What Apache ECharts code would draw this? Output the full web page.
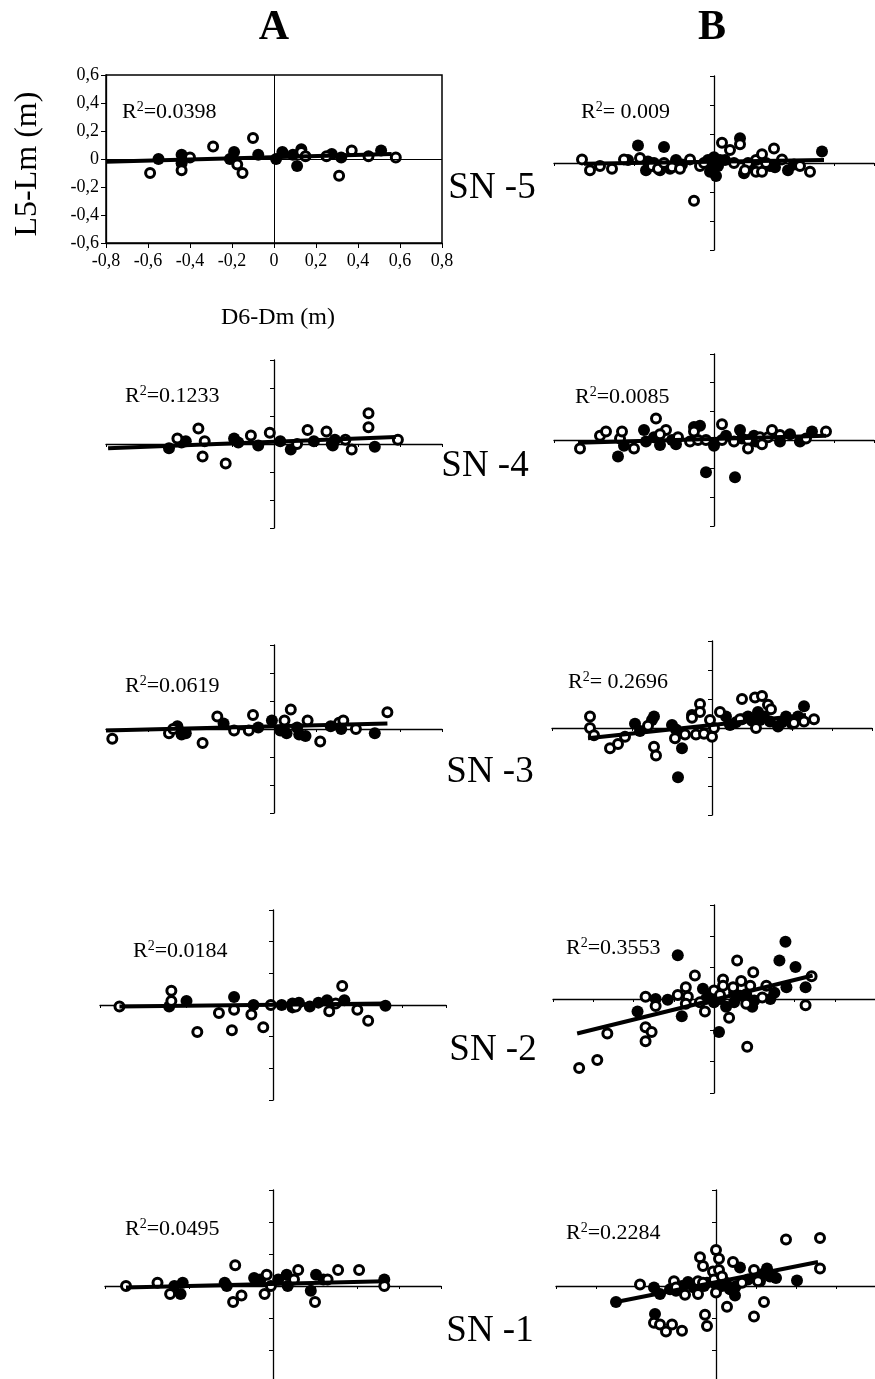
<!DOCTYPE html>
<html>
<head>
<meta charset="utf-8">
<script src="https://cdn.jsdelivr.net/npm/echarts@6/dist/echarts.min.js"></script>
<style>
html,body{margin:0;padding:0;background:#fff}
#chart{width:875px;height:1379px}
</style>
</head>
<body>
<div id="chart"></div>
<script>
// column headers / row names / R2 texts
var columns = ['A', 'B'];
var rowNames = ['SN -5', 'SN -4', 'SN -3', 'SN -2', 'SN -1'];
var r2A = ['=0.0398', '=0.1233', '=0.0619', '=0.0184', '=0.0495'];
var r2B = ['= 0.009', '=0.0085', '= 0.2696', '=0.3553', '=0.2284'];
var xTickLabels = ['-0,8', '-0,6', '-0,4', '-0,2', '0', '0,2', '0,4', '0,6', '0,8'];
var yTickLabels = ['-0,6', '-0,4', '-0,2', '0', '0,2', '0,4', '0,6'];

// ---- column A ----
var aSn5Open = [[-0.59,-0.10],[-0.44,-0.08],[-0.40,0.01],[-0.29,0.09],[-0.175,-0.04],[-0.15,-0.10],[-0.10,0.15],[0.13,0.05],[0.15,0.02],[0.25,0.02],[0.31,-0.12],[0.37,0.06],[0.45,0.02],[0.58,0.01]];
var aSn5Filled = [[-0.55,0.0],[-0.44,0.03],[-0.44,-0.03],[-0.19,0.05],[-0.21,0.0],[-0.075,0.03],[0.01,0.0],[0.04,0.05],[0.09,0.03],[0.11,-0.05],[0.13,0.07],[0.275,0.035],[0.32,0.01],[0.51,0.06]];
var aSn5Fit = [[-0.8,-0.02],[0.56,0.035]];

var aSn4Open = [[-0.46,0.04],[-0.36,0.11],[-0.33,0.02],[-0.34,-0.09],[-0.23,-0.14],[-0.11,0.06],[-0.02,0.08],[0.11,0.0],[0.16,0.10],[0.25,0.09],[0.34,0.03],[0.37,-0.04],[0.45,0.22],[0.45,0.12],[0.59,0.03]];
var aSn4Filled = [[-0.50,-0.03],[-0.42,0.02],[-0.44,0.01],[-0.19,0.04],[-0.17,0.01],[-0.075,-0.01],[0.03,0.02],[0.08,-0.04],[0.19,0.02],[0.275,0.0],[0.28,-0.01],[0.29,0.03],[0.48,-0.02]];
var aSn4Fit = [[-0.79,-0.03],[0.58,0.05]];

var aSn3Open = [[-0.77,-0.07],[-0.50,-0.03],[-0.48,0.0],[-0.34,-0.10],[-0.27,0.09],[-0.19,-0.01],[-0.12,-0.01],[-0.10,0.10],[0.05,0.06],[0.08,0.14],[0.16,0.06],[0.22,-0.09],[0.31,0.045],[0.33,0.06],[0.39,0.0],[0.54,0.12]];
var aSn3Filled = [[-0.46,0.02],[-0.44,-0.04],[-0.42,-0.03],[-0.24,0.04],[-0.075,0.01],[-0.01,0.06],[0.03,-0.01],[0.06,-0.03],[0.12,-0.04],[0.15,-0.05],[0.11,0.01],[0.27,0.02],[0.32,0.0],[0.48,-0.03]];
var aSn3Fit = [[-0.8,-0.01],[0.54,0.04]];

var aSn2Open = [[-0.71,-0.01],[-0.47,0.09],[-0.47,0.025],[-0.35,-0.17],[-0.25,-0.05],[-0.19,-0.16],[-0.18,-0.03],[-0.10,-0.06],[-0.045,-0.14],[-0.01,0.0],[0.105,-0.01],[0.26,-0.04],[0.29,0.01],[0.32,0.12],[0.39,-0.03],[0.44,-0.10]];
var aSn2Filled = [[-0.48,-0.01],[-0.40,0.025],[-0.18,0.05],[-0.09,0.0],[0.04,0.0],[0.09,0.01],[0.12,0.015],[0.09,-0.015],[0.17,-0.01],[0.21,0.015],[0.25,0.03],[0.33,0.03],[0.52,-0.005]];
var aSn2Fit = [[-0.71,-0.01],[0.52,0.01]];

var aSn1Open = [[-0.70,0.0],[-0.55,0.02],[-0.49,-0.05],[-0.19,-0.10],[-0.15,-0.06],[-0.18,0.13],[-0.04,-0.05],[-0.03,0.07],[-0.01,0.0],[0.10,0.04],[0.12,0.10],[0.20,-0.10],[0.26,0.04],[0.31,0.10],[0.41,0.10],[0.53,0.0]];
var aSn1Filled = [[-0.47,0.0],[-0.44,-0.05],[-0.43,0.02],[-0.23,0.02],[-0.22,0.0],[-0.09,0.05],[-0.06,0.04],[0.025,0.04],[0.065,0.07],[0.07,0.0],[0.205,0.07],[0.18,-0.03],[0.24,0.04],[0.53,0.04]];
var aSn1Fit = [[-0.70,-0.01],[0.53,0.03]];

// ---- column B ----
var bSn5Open = [[-0.66,0.025],[-0.62,-0.05],[-0.57,-0.02],[-0.51,-0.04],[-0.45,0.025],[-0.37,0.035],[-0.31,-0.02],[-0.28,-0.04],[-0.25,0.0],[-0.21,-0.03],[-0.17,-0.04],[-0.12,0.025],[-0.10,-0.26],[-0.07,-0.02],[-0.05,0.0],[0.04,0.14],[0.08,0.09],[0.13,0.13],[0.10,0.0],[0.17,0.0],[0.155,-0.05],[0.21,0.02],[0.24,0.06],[0.21,-0.06],[0.24,-0.06],[0.26,0.0],[0.30,0.10],[0.34,0.025],[0.43,-0.02],[0.48,-0.06]];
var bSn5Filled = [[-0.38,0.12],[-0.25,0.11],[-0.43,0.02],[-0.34,-0.05],[-0.30,0.0],[-0.27,-0.05],[-0.19,0.02],[-0.16,-0.01],[-0.03,0.02],[-0.01,-0.03],[0.01,-0.09],[0.03,0.02],[0.13,0.17],[0.15,-0.07],[0.18,-0.03],[0.305,-0.03],[0.37,-0.05],[0.54,0.08],[0.055,0.02],[-0.02,-0.06],[0.0,0.04],[0.02,-0.02],[-0.33,0.01],[-0.22,-0.04],[0.28,-0.02],[0.40,-0.01]];
var bSn5Fit = [[-0.65,-0.005],[0.55,0.02]];

var bSn4Open = [[-0.67,-0.06],[-0.57,0.03],[-0.54,0.06],[-0.47,0.01],[-0.46,0.06],[-0.40,-0.06],[-0.29,0.15],[-0.24,0.07],[-0.27,0.04],[-0.18,0.02],[-0.12,-0.01],[-0.10,0.06],[-0.08,0.0],[-0.04,0.0],[0.04,0.11],[0.04,0.0],[0.10,-0.01],[0.17,0.0],[0.17,-0.06],[0.23,0.02],[0.24,-0.03],[0.27,0.02],[0.29,0.07],[0.33,0.035],[0.46,0.01],[0.56,0.06]];
var bSn4Filled = [[-0.48,-0.115],[-0.45,-0.04],[-0.35,0.07],[-0.34,-0.01],[-0.27,-0.035],[-0.21,0.0],[-0.19,-0.03],[-0.10,0.09],[-0.07,0.10],[-0.04,-0.225],[0.105,-0.26],[0.0,-0.04],[0.13,0.07],[0.14,0.01],[0.21,-0.01],[0.33,-0.01],[0.38,0.04],[0.43,-0.01],[0.49,0.06],[-0.30,0.02],[0.06,0.03],[0.20,0.03]];
var bSn4Fit = [[-0.68,-0.02],[0.56,0.03]];

var bSn3Open = [[-0.61,0.08],[-0.61,0.0],[-0.59,-0.05],[-0.51,-0.14],[-0.47,-0.11],[-0.435,-0.06],[-0.32,0.015],[-0.29,-0.13],[-0.28,-0.19],[-0.185,-0.07],[-0.135,-0.045],[-0.10,0.07],[-0.06,0.165],[-0.06,0.11],[-0.08,-0.045],[-0.04,-0.04],[-0.01,0.055],[0.0,-0.06],[0.01,0.0],[0.04,0.11],[0.14,0.06],[0.15,0.20],[0.215,0.21],[0.25,0.22],[0.28,0.16],[0.295,0.13],[0.22,0.0],[0.41,0.035],[0.46,0.045],[0.51,0.06]];
var bSn3Filled = [[-0.385,0.03],[-0.36,-0.02],[-0.29,0.08],[-0.30,0.055],[-0.20,0.02],[-0.18,-0.01],[-0.15,-0.14],[-0.17,-0.34],[-0.10,0.09],[0.07,0.08],[0.09,0.02],[0.18,0.08],[0.23,0.11],[0.24,0.055],[0.29,0.045],[0.37,0.08],[0.46,0.15],[0.43,0.08],[0.33,0.01],[0.12,0.04],[0.15,0.06],[0.20,0.05],[0.26,0.08],[0.35,0.04],[0.40,0.03]];
var bSn3Fit = [[-0.62,-0.07],[0.47,0.09]];

var bSn2Open = [[-0.67,-0.44],[-0.58,-0.39],[-0.53,-0.22],[-0.34,0.015],[-0.34,-0.18],[-0.34,-0.27],[-0.29,-0.045],[-0.31,-0.21],[-0.18,0.025],[-0.14,0.075],[-0.13,0.015],[-0.14,-0.03],[-0.095,0.15],[-0.07,-0.02],[-0.045,-0.08],[0.0,0.055],[0.03,0.025],[0.045,0.125],[0.045,0.085],[0.075,-0.12],[0.095,0.075],[0.115,0.245],[0.135,0.115],[0.16,-0.03],[0.165,-0.305],[0.195,0.17],[0.18,0.085],[0.24,0.01],[0.26,0.085],[0.455,-0.04],[0.485,0.145]];
var bSn2Filled = [[-0.38,-0.08],[-0.29,0.0],[-0.23,-0.005],[-0.16,-0.11],[-0.18,0.28],[-0.055,0.065],[-0.04,0.0],[0.0,-0.02],[0.025,-0.21],[0.03,0.0],[0.10,-0.02],[0.13,0.02],[0.19,-0.05],[0.20,-0.01],[0.28,0.0],[0.325,0.245],[0.355,0.365],[0.405,0.205],[0.36,0.075],[0.455,0.075],[-0.02,0.03],[0.06,-0.05],[0.10,0.04],[0.16,0.03],[0.30,0.04]];
var bSn2Fit = [[-0.68,-0.22],[0.49,0.15]];

var bSn1Open = [[-0.38,0.01],[-0.31,-0.23],[-0.28,-0.24],[-0.25,-0.285],[-0.22,-0.24],[-0.17,-0.28],[-0.21,0.03],[-0.20,-0.01],[-0.155,-0.055],[-0.09,0.03],[-0.09,-0.05],[-0.08,0.18],[-0.065,0.125],[-0.065,0.02],[-0.055,-0.18],[-0.045,-0.25],[-0.015,0.09],[0.0,0.225],[0.015,0.17],[0.015,0.10],[-0.01,0.04],[0.0,-0.04],[0.055,-0.13],[0.03,0.06],[0.085,0.15],[0.13,0.02],[0.19,-0.19],[0.19,0.10],[0.21,0.03],[0.24,-0.10],[0.35,0.29],[0.52,0.30],[0.52,0.11]];
var bSn1Filled = [[-0.50,-0.10],[-0.305,-0.175],[-0.31,-0.01],[-0.28,-0.05],[-0.23,-0.02],[-0.14,0.025],[-0.11,-0.01],[-0.045,0.02],[0.03,0.0],[0.07,-0.02],[0.095,-0.06],[0.12,0.115],[0.16,0.04],[0.22,0.03],[0.255,0.11],[0.27,0.06],[0.30,0.05],[0.405,0.035],[-0.20,-0.03],[-0.17,0.0],[-0.06,0.0],[0.0,0.01],[0.05,0.02],[0.10,0.0],[0.20,0.05],[0.24,0.08],[0.28,0.07]];
var bSn1Fit = [[-0.50,-0.10],[0.51,0.15]];

var seriesA = [[aSn5Open, aSn5Filled, aSn5Fit], [aSn4Open, aSn4Filled, aSn4Fit], [aSn3Open, aSn3Filled, aSn3Fit], [aSn2Open, aSn2Filled, aSn2Fit], [aSn1Open, aSn1Filled, aSn1Fit]];
var seriesB = [[bSn5Open, bSn5Filled, bSn5Fit], [bSn4Open, bSn4Filled, bSn4Fit], [bSn3Open, bSn3Filled, bSn3Fit], [bSn2Open, bSn2Filled, bSn2Fit], [bSn1Open, bSn1Filled, bSn1Fit]];

// plot boxes (pixels)
var boxA = [
  {left: 106, top: 75, width: 336, height: 168},
  {left: 106, top: 360, width: 336, height: 168},
  {left: 106, top: 645, width: 336, height: 168},
  {left: 100, top: 910, width: 346, height: 190},
  {left: 105, top: 1190, width: 336, height: 192}
];
var boxB = [
  {left: 554, top: 76, width: 320, height: 174},
  {left: 554, top: 354, width: 320, height: 172},
  {left: 552, top: 641, width: 320, height: 174},
  {left: 553, top: 905, width: 322, height: 188},
  {left: 556, top: 1190, width: 320, height: 192}
];
var r2PosA = [[122, 112], [125, 396], [125, 686], [133, 951], [125, 1229]];
var r2PosB = [[581, 112], [575, 397], [568, 682], [566, 948], [566, 1233]];
var rowNamePos = [[492, 188], [485, 466], [490, 772], [493, 1050], [490, 1331]];

var serif = '"Liberation Serif", "Times New Roman", serif';
var chart = echarts.init(document.getElementById('chart'));

var grids = [], xAxes = [], yAxes = [], series = [], texts = [];

function addPanel(box, data, framed) {
  var i = grids.length;
  grids.push({
    left: box.left, top: box.top, width: box.width, height: box.height,
    show: framed, borderColor: '#000', borderWidth: 1.5, backgroundColor: 'transparent',
    containLabel: false, outerBoundsMode: 'none'
  });
  xAxes.push({
    gridIndex: i, type: 'value', min: -0.8, max: 0.8, interval: 0.2,
    axisLine: {show: true, onZero: !framed, lineStyle: {color: '#000', width: 1.3}},
    axisTick: {show: true, length: framed ? 5 : 3, lineStyle: {color: '#000', width: 1}},
    axisLabel: {show: framed, color: '#000', fontFamily: serif, fontSize: 18, margin: 9,
      formatter: function (v, idx) { return xTickLabels[idx]; }},
    splitLine: {show: false}
  });
  yAxes.push({
    gridIndex: i, type: 'value', min: -0.6, max: 0.6, interval: 0.2,
    axisLine: {show: true, onZero: !framed, lineStyle: {color: '#000', width: 1.3}},
    axisTick: {show: true, length: framed ? 5 : 4, lineStyle: {color: '#000', width: 1}},
    axisLabel: {show: framed, color: '#000', fontFamily: serif, fontSize: 18, margin: 7,
      formatter: function (v, idx) { return yTickLabels[idx]; }},
    splitLine: {show: false}
  });
  // filled circles
  series.push({
    type: 'scatter', xAxisIndex: i, yAxisIndex: i, data: data[1], z: 3,
    symbol: 'circle', symbolSize: 12, silent: true,
    itemStyle: {color: '#000', opacity: 1},
    markLine: framed ? {
      silent: true, symbol: 'none', label: {show: false}, animation: false,
      lineStyle: {color: '#000', width: 1, type: 'solid'},
      data: [{xAxis: 0}, {yAxis: 0}]
    } : undefined
  });
  // open circles
  series.push({
    type: 'scatter', xAxisIndex: i, yAxisIndex: i, data: data[0], z: 4,
    symbol: 'circle', symbolSize: 9, silent: true,
    itemStyle: {color: '#fff', borderColor: '#000', borderWidth: 3, opacity: 1}
  });
  // fitted trend line
  series.push({
    type: 'line', xAxisIndex: i, yAxisIndex: i, data: data[2], z: 5,
    symbol: 'none', silent: true,
    lineStyle: {color: '#000', width: 4}
  });
}

for (var r = 0; r < 5; r++) {
  addPanel(boxA[r], seriesA[r], r === 0);
  addPanel(boxB[r], seriesB[r], false);
}

function label(x, y, str, size) {
  return {
    type: 'text', x: x, y: y, silent: true,
    style: {x: 0, y: 0, text: str, fill: '#000', fontFamily: serif, fontSize: size,
      textAlign: 'center', align: 'center', textVerticalAlign: 'middle', verticalAlign: 'middle'}
  };
}

function r2Label(x, y, rest) {
  return {
    type: 'text', x: x, y: y, silent: true,
    style: {
      x: 0, y: 0, text: '{r|R}{s|2}{n|' + rest + '}', fill: '#000',
      textAlign: 'left', align: 'left', textVerticalAlign: 'middle', verticalAlign: 'middle',
      rich: {
        r: {fontFamily: serif, fontSize: 22, lineHeight: 24, fill: '#000', color: '#000'},
        s: {fontFamily: serif, fontSize: 14, lineHeight: 24, verticalAlign: 'top', fill: '#000', color: '#000'},
        n: {fontFamily: serif, fontSize: 22, lineHeight: 24, fill: '#000', color: '#000'}
      }
    }
  };
}

// column headers
var hA = label(274, 28, columns[0], 42); hA.style.fontWeight = 'bold'; texts.push(hA);
var hB = label(712, 28, columns[1], 42); hB.style.fontWeight = 'bold'; texts.push(hB);
// axis titles
var yt = label(28, 164, 'L5-Lm (m)', 32); yt.rotation = Math.PI / 2; texts.push(yt);
texts.push(label(278, 318, 'D6-Dm (m)', 24));
// row names and R2
for (var j = 0; j < 5; j++) {
  texts.push(label(rowNamePos[j][0], rowNamePos[j][1], rowNames[j], 37));
  texts.push(r2Label(r2PosA[j][0], r2PosA[j][1], r2A[j]));
  texts.push(r2Label(r2PosB[j][0], r2PosB[j][1], r2B[j]));
}

chart.setOption({
  animation: false,
  backgroundColor: '#fff',
  grid: grids,
  xAxis: xAxes,
  yAxis: yAxes,
  series: series,
  graphic: {elements: texts}
});
</script>
</body>
</html>
